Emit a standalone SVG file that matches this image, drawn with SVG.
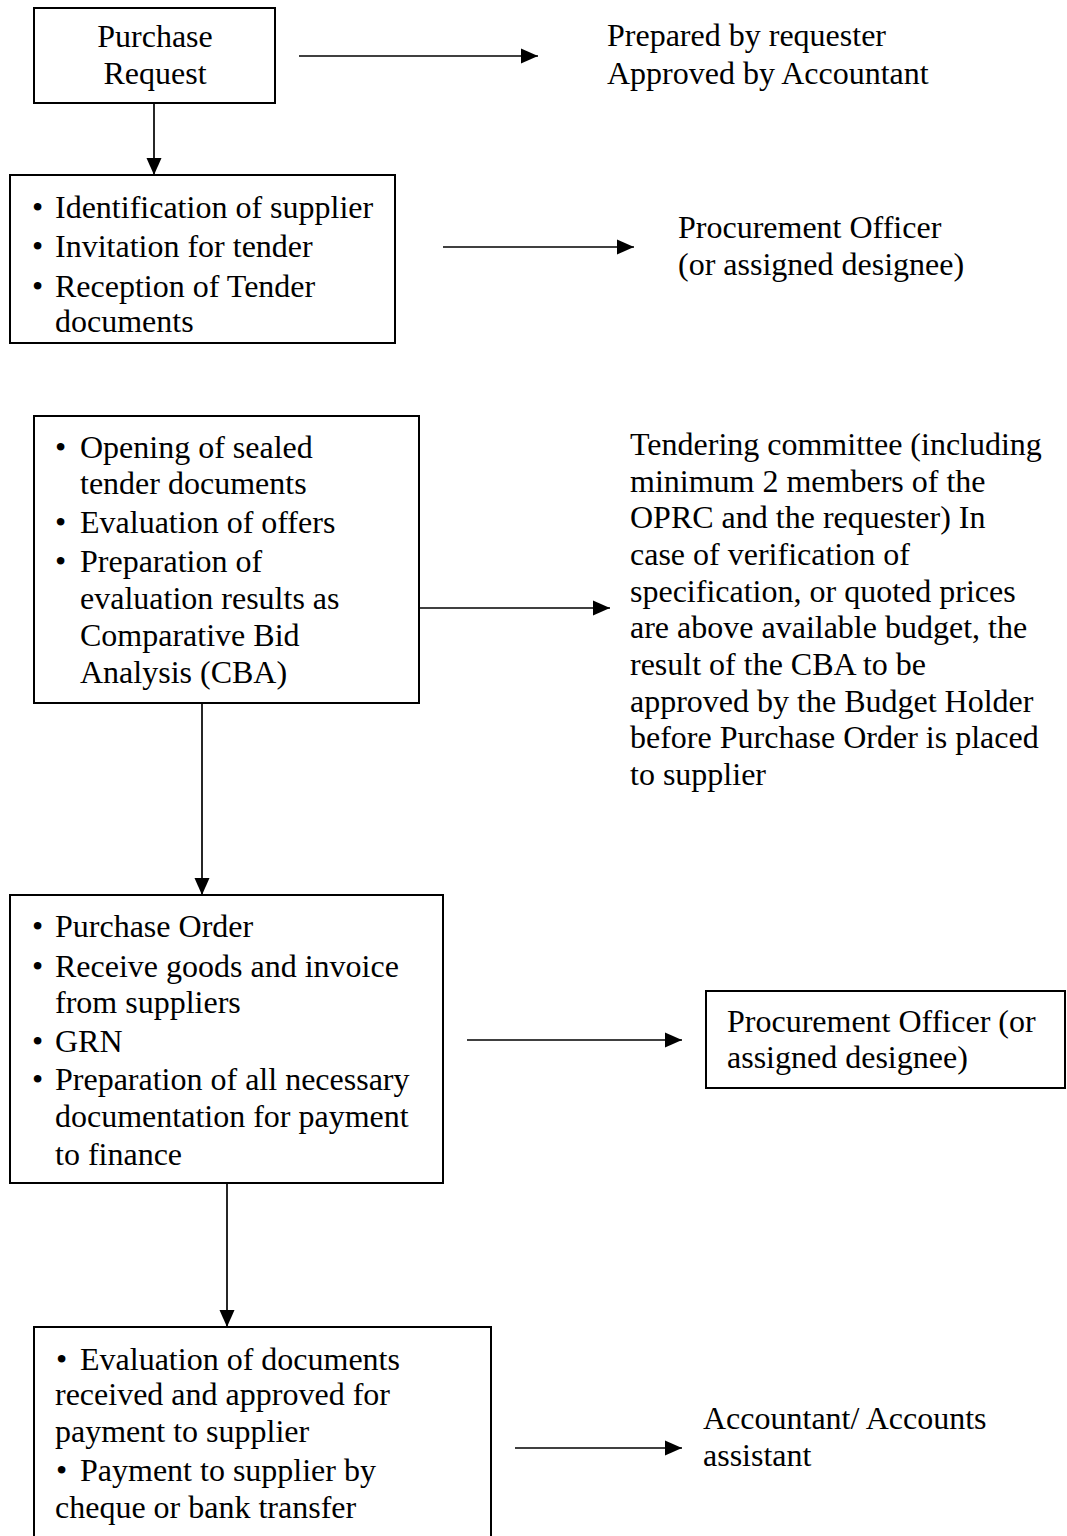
<svg xmlns="http://www.w3.org/2000/svg" width="1067" height="1536" viewBox="0 0 1067 1536">
<defs>
<style>
text { font-family: "Liberation Serif", "Times New Roman", serif; font-size: 32px; fill: #000; }
.box { fill: #fff; stroke: #000; stroke-width: 2; }
.conn { stroke: #000; stroke-width: 1.7; fill: none; marker-end: url(#arr); }
.c { text-anchor: middle; }
</style>
<marker id="arr" markerUnits="userSpaceOnUse" markerWidth="18" markerHeight="16" refX="17" refY="8" orient="auto">
<path d="M0,0.5 L17,8 L0,15.5 Z" fill="#000"/>
</marker>
</defs>
<rect width="1067" height="1536" fill="#fff"/>

<g id="connectors">
<line class="conn" x1="299" y1="56" x2="538" y2="56"/>
<line class="conn" x1="154" y1="103" x2="154" y2="175"/>
<line class="conn" x1="443" y1="247" x2="634" y2="247"/>
<line class="conn" x1="419" y1="608" x2="610" y2="608"/>
<line class="conn" x1="202" y1="703" x2="202" y2="895"/>
<line class="conn" x1="467" y1="1040" x2="682" y2="1040"/>
<line class="conn" x1="227" y1="1183" x2="227" y2="1327"/>
<line class="conn" x1="515" y1="1448" x2="682" y2="1448"/>
</g>

<g id="purchase-request">
<rect class="box" x="34" y="8" width="241" height="95"/>
<text class="c" x="155" y="47">Purchase</text>
<text class="c" x="155" y="84">Request</text>
</g>

<g id="prepared-by">
<text x="607" y="46">Prepared by requester</text>
<text x="607" y="84">Approved by Accountant</text>
</g>

<g id="supplier-identification">
<rect class="box" x="10" y="175" width="385" height="168"/>
<text y="218"><tspan x="32">•</tspan><tspan x="55">Identification of supplier</tspan></text>
<text y="257"><tspan x="32">•</tspan><tspan x="55">Invitation for tender</tspan></text>
<text y="297"><tspan x="32">•</tspan><tspan x="55">Reception of Tender</tspan></text>
<text x="55" y="332">documents</text>
</g>

<g id="procurement-officer-1">
<text x="678" y="238">Procurement Officer</text>
<text x="678" y="275">(or assigned designee)</text>
</g>

<g id="tender-evaluation">
<rect class="box" x="34" y="416" width="385" height="287"/>
<text y="458"><tspan x="55">•</tspan><tspan x="80">Opening of sealed</tspan></text>
<text x="80" y="494">tender documents</text>
<text y="533"><tspan x="55">•</tspan><tspan x="80">Evaluation of offers</tspan></text>
<text y="572"><tspan x="55">•</tspan><tspan x="80">Preparation of</tspan></text>
<text x="80" y="609">evaluation results as</text>
<text x="80" y="646">Comparative Bid</text>
<text x="80" y="683">Analysis (CBA)</text>
</g>

<g id="tendering-committee">
<text x="630" y="455">Tendering committee (including</text>
<text x="630" y="492">minimum 2 members of the</text>
<text x="630" y="528">OPRC and the requester) In</text>
<text x="630" y="565">case of verification of</text>
<text x="630" y="602">specification, or quoted prices</text>
<text x="630" y="638">are above available budget, the</text>
<text x="630" y="675">result of the CBA to be</text>
<text x="630" y="712">approved by the Budget Holder</text>
<text x="630" y="748">before Purchase Order is placed</text>
<text x="630" y="785">to supplier</text>
</g>

<g id="purchase-order">
<rect class="box" x="10" y="895" width="433" height="288"/>
<text y="937"><tspan x="32">•</tspan><tspan x="55">Purchase Order</tspan></text>
<text y="977"><tspan x="32">•</tspan><tspan x="55">Receive goods and invoice</tspan></text>
<text x="55" y="1013">from suppliers</text>
<text y="1052"><tspan x="32">•</tspan><tspan x="55">GRN</tspan></text>
<text y="1090"><tspan x="32">•</tspan><tspan x="55">Preparation of all necessary</tspan></text>
<text x="55" y="1127">documentation for payment</text>
<text x="55" y="1165">to finance</text>
</g>

<g id="procurement-officer-2">
<rect class="box" x="706" y="991" width="359" height="97"/>
<text x="727" y="1032">Procurement Officer (or</text>
<text x="727" y="1068">assigned designee)</text>
</g>

<g id="payment">
<rect class="box" x="34" y="1327" width="457" height="230"/>
<text y="1370"><tspan x="56">•</tspan><tspan x="80">Evaluation of documents</tspan></text>
<text x="55" y="1405">received and approved for</text>
<text x="55" y="1442">payment to supplier</text>
<text y="1481"><tspan x="56">•</tspan><tspan x="80">Payment to supplier by</tspan></text>
<text x="55" y="1518">cheque or bank transfer</text>
</g>

<g id="accountant">
<text x="703" y="1429">Accountant/ Accounts</text>
<text x="703" y="1466">assistant</text>
</g>
</svg>
